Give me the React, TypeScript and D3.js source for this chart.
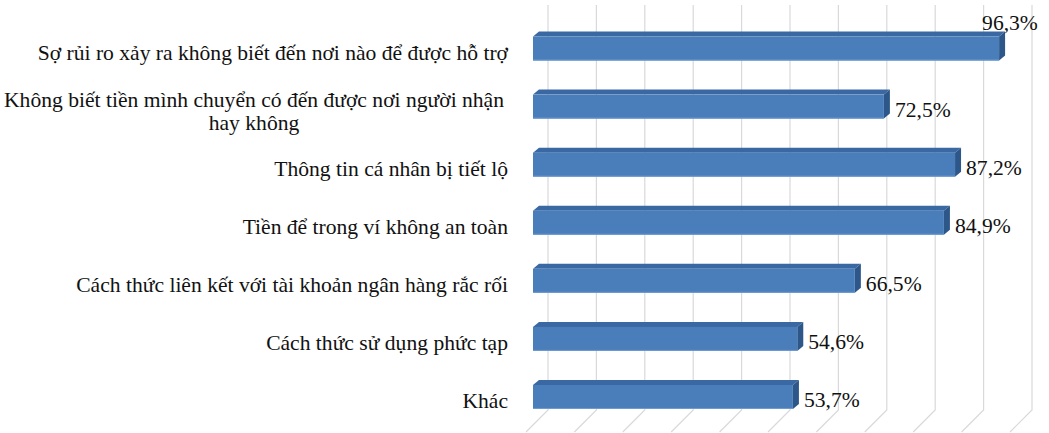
import React from "react";
import * as d3 from "d3";

const categories: string[][] = [
  ["Sợ rủi ro xảy ra không biết đến nơi nào để được hỗ trợ "],
  ["Không biết tiền mình chuyển có đến được nơi người  nhận", "hay không"],
  ["Thông tin cá nhân bị tiết lộ"],
  ["Tiền để trong ví không an toàn"],
  ["Cách thức liên kết với tài khoản ngân  hàng rắc rối"],
  ["Cách  thức sử dụng phức tạp"],
  ["Khác"],
];
const values: number[] = [96.3, 72.5, 87.2, 84.9, 66.5, 54.6, 53.7];
const valueLabels: string[] = ["96,3%", "72,5%", "87,2%", "84,9%", "66,5%", "54,6%", "53,7%"];
const ticks: number[] = [0, 10, 20, 30, 40, 50, 60, 70, 80, 90, 100];

const W = 1049;
const H = 433;
const FONT = "'Liberation Serif', 'Times New Roman', serif";
const FS = 20;
const SX = 1.08;

export default function App() {
  const ids = categories.map((_, i) => String(i));
  const x = d3.scaleLinear().domain([0, 100]).range([533, 1017]);
  const p = 1 - 24 / 58.08;
  const y = d3.scaleBand<string>().domain(ids).range([19.5, 426]).paddingInner(p).paddingOuter(p / 2);
  const bh = y.bandwidth();
  const wallDepth = 15;
  const floorDepth = 22;
  const floorY = 410;
  const topY = 5;
  const dd = 6;
  const dv = 5;

  return (
    <svg width={W} height={H} style={{ position: "absolute", left: 0, top: 0, background: "#fff" }}>
      <g>
        {ticks.map((t) => {
          const gx = x(t) + wallDepth;
          return (
            <path
              key={t}
              d={`M${gx},${topY}L${gx},${floorY}L${gx - floorDepth},${floorY + floorDepth}`}
              fill="none"
              stroke="#d9d9d9"
              strokeWidth={1.2}
            />
          );
        })}
      </g>
      <g>
        {values.map((v, i) => {
          const y0 = y(String(i))!;
          const y1 = y0 + bh;
          const x0 = x(0);
          const x1 = x(v);
          const top = `M${x0},${y0}L${x0 + dd},${y0 - dv}L${x1 + dd},${y0 - dv}L${x1},${y0}Z`;
          const side = `M${x1},${y0}L${x1 + dd},${y0 - dv}L${x1 + dd},${y1 - dv}L${x1},${y1}Z`;
          return (
            <g key={i}>
              <path d={top} fill="#3a68a3" />
              <path d={side} fill="#2d5689" />
              <rect x={x0} y={y0} width={x1 - x0} height={bh} fill="#4a7ebb" />
              <line x1={x0} x2={x1} y1={y1 - 0.5} y2={y1 - 0.5} stroke="#6f9bd1" strokeWidth={1} />
            </g>
          );
        })}
      </g>
      <g fontFamily={FONT} fontSize={FS} fill="#111" style={{ whiteSpace: "pre" }}>
        {categories.map((lines, i) => {
          const cy = y(String(i))! + bh / 2;
          if (lines.length === 1) {
            return (
              <text key={i} transform={`translate(508,${cy + 11}) scale(${SX},1)`} textAnchor="end">
                {lines[0]}
              </text>
            );
          }
          return (
            <text key={i} transform={`translate(254,${cy + 0.5}) scale(${SX},1)`} textAnchor="middle">
              {lines.map((l, j) => (
                <tspan key={j} x={0} dy={j === 0 ? 0 : 22.5}>
                  {l}
                </tspan>
              ))}
            </text>
          );
        })}
      </g>
      <g fontFamily={FONT} fontSize={FS} fill="#111">
        {values.map((v, i) => {
          const y0 = y(String(i))!;
          const cy = y0 + bh / 2;
          const above = x(v) + 11 + 55 > W;
          const tx = above ? x(v) - 17 : x(v) + 11;
          const ty = above ? y0 - 7 : cy + 10;
          return (
            <text key={i} transform={`translate(${tx},${ty}) scale(${SX},1)`}>
              {valueLabels[i]}
            </text>
          );
        })}
      </g>
    </svg>
  );
}
